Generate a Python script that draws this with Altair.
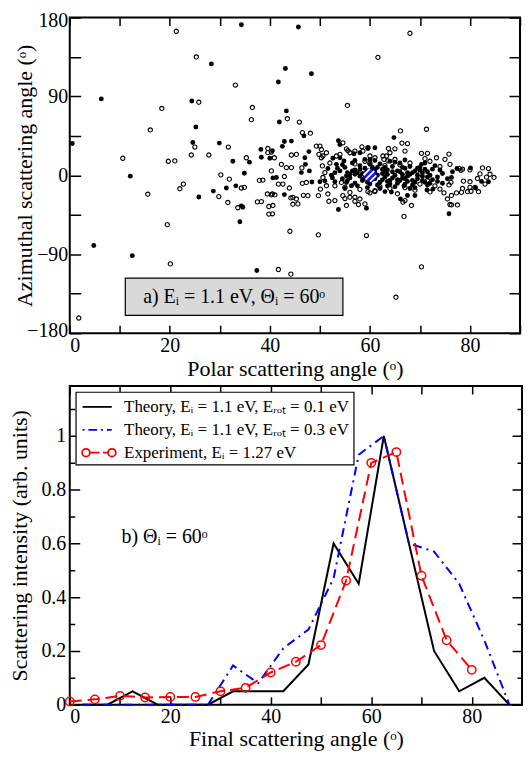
import altair as alt
import pandas as pd

SERIF = "Liberation Serif"

# ---------------- panel (a): scattering events ----------------
FILLED = [
    (34.3, 171.7), (45.7, 169), (28.3, 127), (43.1, 121.7), (48.3, 115.7), (41.7, 106.3),
    (6.3, 87.1), (24.4, 84.7), (43.3, 73.4), (41.9, 60.7), (25.2, 55.1), (0.5, 36.3),
    (24.6, 37.4), (29.9, 36.7), (46.8, 45), (42.9, 38.5), (44.3, 39), (42.5, 33), (64.8, 43),
    (53.7, 39.5), (54, 35), (38.2, 29.5), (40.5, 28), (38.3, 20.5), (40, 19.4), (47, 20),
    (47.8, 27), (35.9, 15), (32.6, 16), (59.6, 30.6), (56.8, 24.6), (52.6, 19.4), (54.8, 16.4),
    (12.1, -1), (34.9, 2.4), (31.3, -14.5), (33.2, -12), (28.7, -18), (25.8, -24.7),
    (34.3, -34.8), (34, -52.9), (42.9, -22), (40.6, -3), (48.4, -7.7), (53.7, -39),
    (59.3, -37.5), (63, -18.6), (64.3, -19), (66.1, -26.9), (67.5, -23), (69, -23),
    (71.4, -16.8), (75.8, -43.8), (80.1, 8.4), (81.1, -14.5), (82.3, -7), (4.8, -80),
    (12.5, -91.6), (37.4, -108.6),
    (47.1, 12.5), (47.9, 5), (46.3, 3.1), (41.3, -2.5), (54, 20), (53.3, 12.5), (51.6, 7.7),
    (52.3, 0.1), (51, -6.3), (50, -7.4), (53, -7.4), (55.3, -8.2), (56.3, -11.9), (58, 25.7),
    (59, 18.2), (60, 12.5), (58, 6.9), (57, 1.2), (58.6, -4.4), (56, 1.2), (55.3, -0.6),
    (54, 5), (61, 31.4), (67, 17.5), (72.6, -15.7), (83.7, -7.3), (76.3, -2.5), (77.4, 7.7),
    (34.6, -36.5),
    (56, -3), (57.5, 3), (58.5, -6), (59, 8), (60.5, 5), (61, -4), (61.5, 9), (62, -8),
    (62.5, 2), (63, -2), (63.5, 6), (64, -6), (64.5, 10), (65, 0), (65.5, -9), (66, 4),
    (66.5, -3), (67, 8), (67.5, -7), (68, 1), (68.5, -11), (69, 5), (69.5, -4), (70, 9),
    (70.5, -1), (71, -8), (71.5, 4), (72, 0), (72.5, -5), (73, 11), (62, 13), (60, -10),
    (57, -9), (55, 9), (53, 3), (56.5, 14), (59.5, -14), (63.5, -12), (66, 14), (69, -14),
    (61, 17), (64, 16), (58, 11), (66.8, -12), (70.3, 12.5), (74, 6), (74.5, -9), (73.5, -2),
    (57, 6), (58, -1), (59.5, 3), (61.5, 0), (62.5, -5), (63.5, 1), (64.5, -3), (65.5, 5),
    (66.5, 1), (67.5, -1), (68.5, 3), (69.5, 0), (70.5, -6), (71.5, -2), (54.5, -4),
    (55.5, 3), (60, -6), (61, 6), (63, 9), (65, -13), (67, -10), (68, 10), (69, -8), (71, 7),
    (52.5, -3), (53.5, 8), (54.5, 12), (55.5, -6), (56.5, 5), (57.5, -12), (58.5, 2),
    (59.5, -8), (60.5, 9), (61.5, -11), (62.5, 7), (63.5, -7), (64.5, 4), (65.5, -5),
    (66.5, 9), (67.5, 3), (68.5, -6), (69.5, 8), (70.5, 3), (71.5, -11), (72.5, 7),
    (73.5, -7), (74.5, 2), (75.5, -4), (76.5, 4), (62, -15), (65, 15), (68, -15), (71, 14),
    (57, 17), (60, 18), (55, -15), (64, -10), (66, -6), (63, 4), (61, 2), (59, -3), (67, -4),
    (70, 6), (72, -9),
]

OPEN = [
    (21.3, 164.2), (68, 161.9), (25.3, 134.9), (61.6, 134.5), (33.1, 102.9), (25.8, 83.3),
    (18.4, 76.2), (36.5, 77.3), (55.5, 79.6), (36.3, 63.4), (43.5, 64.5), (45.9, 60.7),
    (16.1, 51.7), (46.5, 48.7), (48.1, 48), (66.1, 50.6), (71.3, 52.5), (66.4, 36.7),
    (25, 32.2), (24.3, 23.1), (27.8, 23.1), (31.7, 32.2), (10.6, 19.4), (19.7, 16), (21, 16.4),
    (39.6, 30.6), (39.6, 25.8), (44.3, 23.1), (49.8, 23.9), (49.3, 33.3), (55.6, 28),
    (58.4, 32.5), (63.7, 30.6), (70.3, 25), (75.8, 24.2), (30.2, 0.5), (31.9, -4.4),
    (22.7, -10), (22, -15.3), (15.6, -21.6), (34.3, -14.5), (29.8, -24.3), (31.6, -31),
    (33.6, -37), (37.5, -30.3), (37.9, -5.8), (39.5, -21.3), (40.3, -22.4), (39.8, -35.6),
    (39.8, -44.2), (41.7, -10), (43.9, -14.5), (44.2, -25.8), (44.6, -33), (46.5, -9.2),
    (46.7, -22.8), (46.4, 8.4), (49.7, -23.2), (50.1, -15.7), (51.8, -29.6), (54.6, -23.2),
    (55, -26.5), (57, -29.6), (57.7, -33.3), (59.6, -18.6), (19.5, -56.3), (44, -63.8),
    (49.7, -67.9), (59.3, -68.7), (66.8, -46.9), (76, -33.3), (77.3, -20.1), (78.3, -19.4),
    (78.7, -6.6), (80, -13.7), (80.2, -18.2), (78.5, 6.9), (82.5, 8.4), (82, 1.6),
    (83.3, -2.1), (20.1, -101), (41.7, -107.4), (44.2, -112.7), (70.3, -104.4),
    (65.2, -139), (1.8, -162.7),
    (67.5, 36.2), (67, 27.6), (65, 30.2), (71.5, 25), (73.3, 20), (75, 18.2), (76, 12.5),
    (77.9, 7.7), (78.2, 5.7), (80, 6.2), (81.5, -3.6), (80, -7.3), (83.7, 7.7), (84, 1.2),
    (84.8, -2.5), (83, -10), (81, -13.8), (79.5, -18.7), (81.7, -18.7), (74, -15.7),
    (74.8, -20), (76.3, -23), (75.5, -27), (76.3, -33.8), (66.6, -30.7), (67, -28.8),
    (68.3, -34.4), (77.5, -33.8), (75.8, -11), (76.2, -8), (78.5, -15), (63.3, 22),
    (62.8, 18.2), (64, 25.7), (61, 20), (61, -18.6),
    (40.3, 26.5), (40.9, 20), (35.3, 20), (45.3, 23.8), (42.3, 12.5), (43.3, 8.8),
    (44.3, 8.8), (40.3, 5), (42.9, -1.4), (42.6, -10), (38.6, -5.5), (34.9, -13.8),
    (40.5, -21.3), (41, -22.4), (44.6, -25.2), (45.3, -27), (45.6, -32.6), (40.6, -34.4),
    (40.5, -43.9), (38.3, -30), (47.3, -8.2), (47.6, -23.2), (50, 33.3), (50.3, 29.4),
    (51.3, 25.7), (50.6, 22), (50.3, 20), (50.5, 10.7), (51, 3.1), (50.6, -2.5),
    (51.3, -11.9), (51.6, -21.3), (53, -28.8), (53.3, 22), (54, 23.8), (55.3, 30.2),
    (56, 25.7), (57, 27.6), (54.3, -8.2), (55, -13.8), (56, -19.5), (56, -25), (57, -25),
    (58, -27), (59, -32.6), (55.3, -34.4), (54.6, 37), (59.6, 31.4), (58.6, 27.6), (60, 22),
    (61, -17.5), (62.6, 22), (63.6, 16.4),
    (57, 13), (59, 16), (62, -13), (64, -15), (66, 12), (68, 14), (70, -10), (72, 16),
    (73, -12), (71, 19), (69, -17), (65, 18), (60, 14), (58, -16), (53, -12), (52, 14),
    (63, 11), (67, -14), (72, -19), (74, 10), (70, 2), (71.5, -6), (60, -20), (65.5, -21),
]

INCIDENT = [(60.0, 0.0)]

# ---------------- panel (b): angular distributions ----------------
THEORY_X = [2.5, 7.5, 12.5, 17.5, 22.5, 27.5, 32.5, 37.5, 42.5, 47.5, 52.5, 57.5,
            62.5, 67.5, 72.5, 77.5, 82.5, 87.5]
THEORY_LOW_Y = [0, 0, 0.05, 0, 0, 0, 0.05, 0.05, 0.05, 0.15, 0.6, 0.45,
                1.0, 0.6, 0.2, 0.05, 0.1, 0]
THEORY_HIGH_Y = [0, 0, 0, 0, 0, 0, 0.146, 0.08, 0.21, 0.28, 0.47, 0.93,
                 1.0, 0.6, 0.57, 0.45, 0.24, 0]
EXP_X = [0, 5, 10, 15, 20, 25, 30, 35, 40, 45, 50, 55, 60, 65, 70, 75, 80]
EXP_Y = [0.012, 0.02, 0.033, 0.027, 0.029, 0.029, 0.05, 0.063, 0.12, 0.16, 0.222,
         0.462, 0.9, 0.94, 0.48, 0.24, 0.13]

SERIES = [
    "Theory, Eᵢ = 1.1 eV, Eᵣₒₜ = 0.1 eV",
    "Theory, Eᵢ = 1.1 eV, Eᵣₒₜ = 0.3 eV",
    "Experiment, Eᵢ = 1.27 eV",
]
SERIES_COLORS = ["#000000", "#0000ff", "#ff0000"]
LEGEND_SYMBOLS = [
    "M-1.5,0H1.5",
    "M-1.5,0H-1.3M-0.9,0H0M0.4,0H0.6M1,0H1.5",
    "M-0.75,0H0.25M0.6,0H1.12M-0.75,0A0.4,0.4 0 1,0 -1.55,0A0.4,0.4 0 1,0 -0.75,0"
    "M1.92,0A0.4,0.4 0 1,0 1.12,0A0.4,0.4 0 1,0 1.92,0",
]

# ---------------- sizes ----------------
W1, H1 = 452, 317
W2, H2 = 454, 320

df_filled = pd.DataFrame(FILLED, columns=["x", "y"])
df_open = pd.DataFrame(OPEN, columns=["x", "y"])
df_inc = pd.DataFrame(INCIDENT, columns=["x", "y"])
df_low = pd.DataFrame({"x": THEORY_X, "y": THEORY_LOW_Y})
df_high = pd.DataFrame({"x": THEORY_X, "y": THEORY_HIGH_Y})
df_exp = pd.DataFrame({"x": EXP_X, "y": EXP_Y})
df_leg = pd.DataFrame({"s": SERIES})
one = pd.DataFrame({"k": [0]})

# ---------------- panel (a) ----------------
xs1 = alt.Scale(domain=[0, 90], nice=False, zero=False)
ys1 = alt.Scale(domain=[-180, 180], nice=False, zero=False)

xa1 = alt.Axis(values=list(range(0, 91, 10)),
               labelExpr="datum.value % 20 == 0 ? datum.label : ''",
               title="Polar scattering angle (ᵒ)", grid=True,
               gridDash=[8, H1 - 16, 8, 80], ticks=False, domain=False,
               labelPadding=2, minExtent=22, maxExtent=22, titlePadding=3)
ya1 = alt.Axis(values=list(range(-180, 181, 45)),
               labelExpr="datum.value % 90 == 0 ? datum.label : ''",
               title="Azimuthal scattering angle (ᵒ)", grid=True,
               gridDash=[11, W1 - 22, 11, 80], ticks=False, domain=False,
               labelFlush=True, labelFlushOffset=7,
               labelPadding=2, minExtent=33, maxExtent=33, titlePadding=0)

X1 = lambda ax=None: alt.X("x:Q", scale=xs1, axis=ax)
Y1 = lambda ax=None: alt.Y("y:Q", scale=ys1, axis=ax)

open_pts = alt.Chart(df_open).mark_point(
    shape="circle", filled=False, color="black", size=18, strokeWidth=1.1, opacity=1
).encode(x=X1(xa1), y=Y1(ya1))

filled_pts = alt.Chart(df_filled).mark_circle(
    color="black", size=24, opacity=1
).encode(x=X1(), y=Y1())

inc_pt = alt.Chart(df_inc).mark_circle(
    color="#1414ff", size=175, opacity=1, stroke="#000060", strokeWidth=1
).encode(x=X1(), y=Y1())

hatch_c = alt.Chart(df_inc).mark_point(
    shape="stroke", angle=315, color="white", size=150, strokeWidth=1.8, opacity=1
).encode(x=X1(), y=Y1())
hatch_a = alt.Chart(df_inc).mark_point(
    shape="stroke", angle=315, color="white", size=80, strokeWidth=1.8, opacity=1,
    xOffset=3.2, yOffset=3.2
).encode(x=X1(), y=Y1())
hatch_b = alt.Chart(df_inc).mark_point(
    shape="stroke", angle=315, color="white", size=80, strokeWidth=1.8, opacity=1,
    xOffset=-3.2, yOffset=-3.2
).encode(x=X1(), y=Y1())

box = alt.Chart(one).mark_rect(fill="#d9d9d9", stroke="black", strokeWidth=1.2).encode(
    x=alt.X(datum=11.1, scale=xs1, axis=None),
    x2=alt.X2(datum=54.6),
    y=alt.Y(datum=-117.2, scale=ys1, axis=None),
    y2=alt.Y2(datum=-159.7),
)
box_text = alt.Chart(one).mark_text(
    text="a) Eᵢ = 1.1 eV, Θᵢ = 60ᵒ", font=SERIF, fontSize=20, color="black",
    align="center", baseline="alphabetic"
).encode(
    x=alt.X(datum=32.85, scale=xs1, axis=None),
    y=alt.Y(datum=-145.5, scale=ys1, axis=None),
)

top = alt.layer(open_pts, filled_pts, inc_pt, hatch_c, hatch_a, hatch_b, box, box_text).resolve_axis(
    x="independent", y="independent"
).properties(width=W1, height=H1)

# ---------------- panel (b) ----------------
xs2 = alt.Scale(domain=[0, 90], nice=False, zero=False)
ys2 = alt.Scale(domain=[0, 1.186], nice=False, zero=False)

xa2 = alt.Axis(values=list(range(0, 91, 10)),
               labelExpr="datum.value % 20 == 0 ? datum.label : ''",
               title="Final scattering angle (ᵒ)", grid=True,
               gridDash=[8, H2 - 16, 8, 80], ticks=False, domain=False,
               labelPadding=2, minExtent=22, maxExtent=22, titlePadding=2)
ya2 = alt.Axis(values=[0, 0.2, 0.4, 0.6, 0.8, 1.0],
               labelExpr="datum.value == 0 ? '0' : (datum.value == 1 ? '1' : format(datum.value, '.1f'))",
               title="Scattering intensity (arb. units)", grid=True,
               gridDash=[10, W2 - 20, 10, 80], ticks=False, domain=False,
               labelPadding=4, minExtent=38, maxExtent=38, titlePadding=0)
ya2_minor = alt.Axis(orient="right", values=[0.1, 0.3, 0.5, 0.7, 0.9, 1.1],
                     labels=False, title=None, grid=True,
                     gridDash=[5, W2 - 10, 5, 80], ticks=False, domain=False,
                     minExtent=0, maxExtent=0)

X2 = lambda ax=None: alt.X("x:Q", scale=xs2, axis=ax)
Y2 = lambda ax=None: alt.Y("y:Q", scale=ys2, axis=ax)

line_low = alt.Chart(df_low).mark_line(color="black", strokeWidth=2).encode(
    x=X2(xa2), y=Y2(ya2))
line_high = alt.Chart(df_high).mark_line(
    color="#0000ff", strokeWidth=2, strokeDash=[9, 5, 2, 5]).encode(x=X2(), y=Y2())
line_exp = alt.Chart(df_exp).mark_line(
    color="#ff0000", strokeWidth=2, strokeDash=[12, 6]).encode(x=X2(), y=Y2())
pts_exp = alt.Chart(df_exp).mark_point(
    shape="circle", filled=False, color="#ff0000", size=70, strokeWidth=1.5, opacity=1
).encode(x=X2(), y=Y2(ya2_minor))

leg = alt.Legend(title=None, orient="top-left", offset=6, labelFont=SERIF)
legend_layer = alt.Chart(df_leg).mark_point(filled=False, strokeWidth=1.8, opacity=1).encode(
    color=alt.Color("s:N", scale=alt.Scale(domain=SERIES, range=SERIES_COLORS), legend=leg),
    shape=alt.Shape("s:N", scale=alt.Scale(domain=SERIES, range=LEGEND_SYMBOLS), legend=leg),
).transform_filter("false")

b_text = alt.Chart(one).mark_text(
    text="b) Θᵢ = 60ᵒ", font=SERIF, fontSize=20, color="black",
    align="left", baseline="alphabetic"
).encode(
    x=alt.X(datum=10.3, scale=xs2, axis=None),
    y=alt.Y(datum=0.6, scale=ys2, axis=None),
)

bottom = alt.layer(line_low, line_high, line_exp, pts_exp, b_text, legend_layer).resolve_axis(
    x="independent", y="independent"
).properties(width=W2, height=H2)

chart = alt.vconcat(top, bottom, spacing=53, bounds="flush").resolve_legend(
    color="independent", shape="independent"
).properties(
    padding=0
).configure_view(
    stroke="black", strokeWidth=2
).configure_axis(
    labelFont=SERIF, labelFontSize=20, labelColor="black",
    titleFont=SERIF, titleFontSize=22, titleFontWeight="normal", titleColor="black",
    gridColor="black", gridOpacity=1, gridWidth=1.5,
).configure_legend(
    padding=4, strokeColor="black", fillColor="white", strokeWidth=1.2,
    symbolSize=380, symbolOffset=6.5, labelOffset=16, symbolStrokeWidth=1.8,
    labelFont=SERIF, labelFontSize=17, labelColor="black", labelLimit=400,
    rowPadding=4, cornerRadius=0,
)

chart.save("out.html", embed_options={"renderer": "svg", "actions": False})
